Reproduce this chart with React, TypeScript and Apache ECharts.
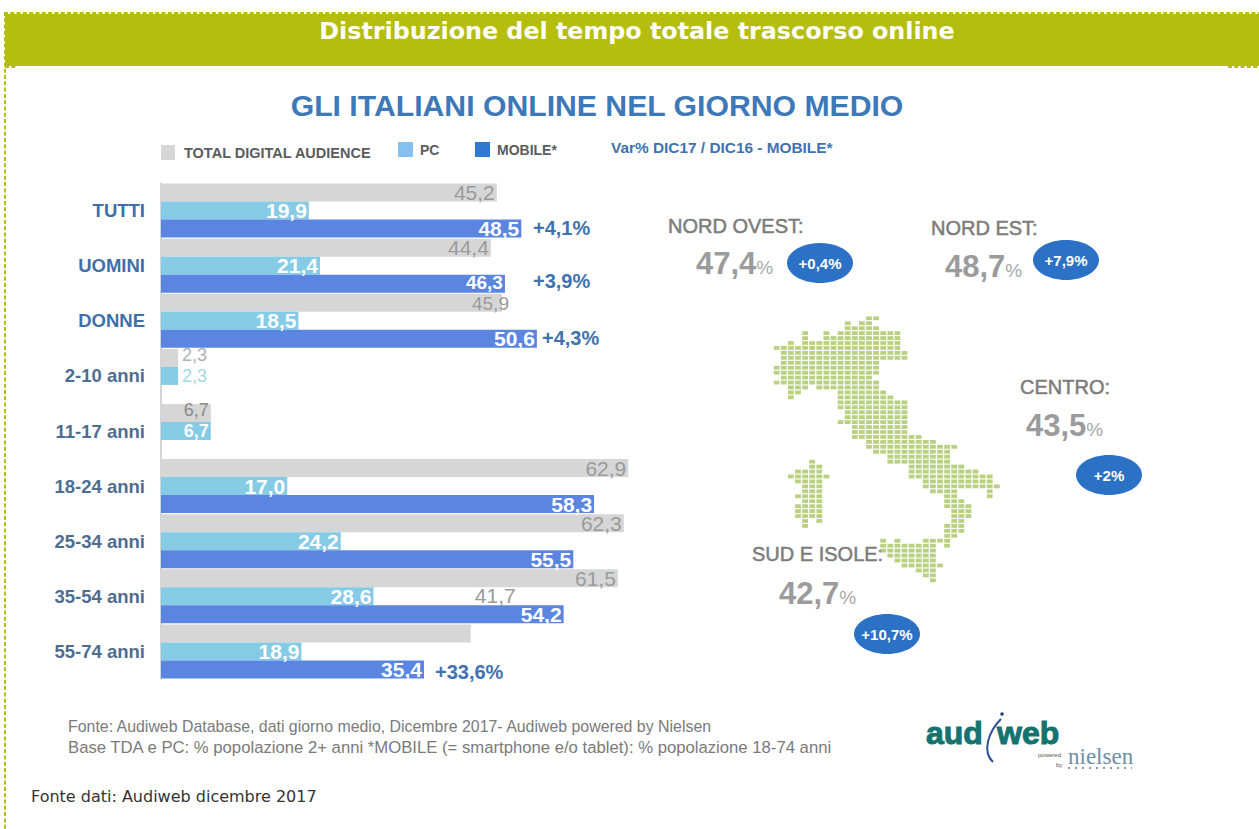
import React, { useEffect, useRef } from "react";
import * as echarts from "echarts";

const categories = ["TUTTI", "UOMINI", "DONNE", "2-10 anni", "11-17 anni", "18-24 anni", "25-34 anni", "35-54 anni", "55-74 anni"];
const totalAudience = [45.2, 44.4, 45.9, 2.3, 6.7, 62.9, 62.3, 61.5, 41.7];
const pc = [19.9, 21.4, 18.5, 2.3, 6.7, 17.0, 24.2, 28.6, 18.9];
const mobile = [48.5, 46.3, 50.6, null, null, 58.3, 55.5, 54.2, 35.4];

const seriesNames = ["TOTAL DIGITAL AUDIENCE", "PC", "MOBILE*"];
const variations = ["+4,1%", "+3,9%", "+4,3%", "+33,6%"];
const regions = [
  { name: "NORD OVEST:", share: "47,4", change: "+0,4%" },
  { name: "NORD EST:", share: "48,7", change: "+7,9%" },
  { name: "CENTRO:", share: "43,5", change: "+2%" },
  { name: "SUD E ISOLE:", share: "42,7", change: "+10,7%" },
];

// Dotted map of Italy: [row, first column, last column] runs of dots.
const mapRuns = [
  [0, 13, 14], [1, 10, 10], [1, 12, 13], [2, 10, 14], [3, 4, 4], [3, 7, 7], [3, 9, 17], [4, 4, 4], [4, 7, 17],
  [5, 2, 2], [5, 4, 17], [6, 0, 17], [7, 1, 18], [8, 1, 18], [9, 1, 14], [10, 0, 14], [11, 0, 14], [12, 1, 13],
  [13, 0, 14], [14, 2, 4], [14, 6, 14], [15, 2, 3], [15, 9, 15], [16, 2, 2], [16, 9, 16], [17, 9, 18], [18, 9, 18],
  [19, 10, 18], [20, 10, 18], [21, 9, 18], [22, 11, 18], [23, 11, 18], [24, 11, 20], [25, 13, 22], [26, 13, 25],
  [27, 14, 24], [28, 16, 24], [29, 16, 24], [30, 19, 26], [31, 19, 28], [32, 19, 30], [33, 21, 30], [34, 21, 31],
  [35, 22, 25], [35, 30, 30], [36, 24, 25], [36, 30, 30], [37, 24, 26], [38, 24, 27], [39, 25, 27], [40, 25, 27],
  [41, 25, 26], [42, 24, 26], [43, 24, 26], [44, 24, 25], [45, 15, 15], [45, 17, 17], [45, 21, 24], [46, 15, 22],
  [46, 24, 24], [47, 15, 22], [48, 16, 22], [49, 17, 22], [50, 18, 23], [51, 20, 22], [52, 21, 22], [53, 22, 22],
  // Sardegna
  [29, 5, 5], [30, 5, 6], [31, 3, 3], [31, 4, 6], [32, 2, 7], [33, 3, 6], [34, 4, 6], [35, 4, 6], [36, 3, 6],
  [37, 4, 6], [38, 3, 6], [39, 3, 6], [40, 3, 6], [41, 4, 4], [41, 6, 6], [42, 4, 4],
];

const OLIVE = "#b5bd0e";
const FONT = "Liberation Sans";
const BLUE_TEXT = "#3f72b0";

const decimal = (v: number) => v.toFixed(1).replace(".", ",");

function barLabel(color: string, position: string, bold: boolean, offset?: number[], fontSize = 21) {
  return {
    show: true,
    position,
    distance: 2,
    offset: offset ?? [0, 0],
    color,
    fontFamily: FONT,
    fontSize,
    lineHeight: 17,
    fontWeight: bold ? "bold" : "normal",
    formatter: (p: any) => decimal(p.value),
  };
}

function text(x: number, y: number, value: string, fontSize: number, fill: string, extra: any = {}) {
  return {
    type: "text",
    x,
    y,
    style: { text: value, fontSize, fill, fontFamily: FONT, fontWeight: "bold", textVerticalAlign: "middle", ...extra },
  };
}

function regionBlock(r: (typeof regions)[number], nameX: number, nameY: number, shareX: number, shareY: number, cx: number, cy: number) {
  return [
    text(nameX, nameY, r.name, 20, "#7c7c7c", { fontWeight: "normal", stroke: "#7c7c7c", lineWidth: 0.5 }),
    {
      type: "text",
      x: shareX,
      y: shareY,
      style: {
        text: `{n|${r.share}}{p|%}`,
        fontFamily: FONT,
        textVerticalAlign: "middle",
        rich: {
          n: { fontSize: 31, fill: "#9b9b9b", fontFamily: FONT, fontWeight: "bold" },
          p: { fontSize: 19, fill: "#a8a8a8", fontFamily: FONT, padding: [8, 0, 0, 0] },
        },
      },
    },
    { type: "ellipse", shape: { cx, cy, rx: 33, ry: 20 }, style: { fill: "#2b72c6" } },
    text(cx, cy, r.change, 15, "#ffffff", { textAlign: "center" }),
  ];
}

export default function App() {
  const ref = useRef<HTMLDivElement>(null);

  useEffect(() => {
    if (!ref.current) return;
    const chart = echarts.init(ref.current, undefined, { renderer: "svg" });

    const mapDots: number[][] = [];
    mapRuns.forEach(([row, from, to]) => {
      for (let c = from; c <= to; c++) mapDots.push([c, row]);
    });

    chart.setOption({
      animation: false,
      backgroundColor: "#ffffff",
      title: [
        {
          text: "Distribuzione del tempo totale trascorso online",
          left: 632,
          top: 14,
          textAlign: "center",
          textStyle: { color: "#ffffff", fontFamily: "DejaVu Sans", fontSize: 23.8, fontWeight: "bold" },
        },
        {
          text: "GLI ITALIANI ONLINE NEL GIORNO MEDIO",
          left: 592,
          top: 85,
          textAlign: "center",
          textStyle: { color: "#3d78b8", fontFamily: FONT, fontSize: 30.2, fontWeight: "bold" },
        },
      ],
      legend: [
        { name: 0, left: 161, top: 145, itemWidth: 14, itemHeight: 15, color: "#d6d6d6" },
        { name: 1, left: 398, top: 142, itemWidth: 15, itemHeight: 15, color: "#86c0ee" },
        { name: 2, left: 475, top: 142, itemWidth: 15, itemHeight: 15, color: "#2f7ad0" },
      ].map((l) => ({
        data: [seriesNames[l.name]],
        left: l.left,
        top: l.top,
        itemWidth: l.itemWidth,
        itemHeight: l.itemHeight,
        itemGap: 0,
        icon: "rect",
        padding: 0,
        itemStyle: { color: l.color },
        textStyle: {
          color: "#5c5c5c",
          fontFamily: FONT,
          fontSize: l.name === 0 ? 14.5 : 14,
          fontWeight: "bold",
          padding: [0, 0, 0, l.name === 0 ? 4 : 2],
        },
      })),
      grid: [
        { left: 161, top: 183, width: 468, height: 496 },
        { left: 776.7, top: 318.3, width: 220.1, height: 262 },
      ],
      xAxis: [
        { type: "value", gridIndex: 0, min: 0, max: 63, show: false },
        { type: "value", gridIndex: 1, min: 0, max: 31, show: false },
      ],
      yAxis: [
        {
          type: "category",
          gridIndex: 0,
          data: categories,
          inverse: true,
          axisTick: { show: false },
          axisLine: { lineStyle: { color: "#c4c8cc", width: 1.5 } },
          axisLabel: {
            margin: 16,
            color: (_: any, i: number) => (i < 3 ? "#3f6fa8" : "#4d6d92"),
            fontFamily: FONT,
            fontSize: 18.5,
            fontWeight: "bold",
          },
        },
        { type: "value", gridIndex: 1, min: 0, max: 53, inverse: true, show: false },
      ],
      series: [
        {
          name: seriesNames[0],
          type: "bar",
          barWidth: 18,
          barGap: 0,
          itemStyle: { color: "#d6d6d6" },
          label: barLabel("#9a9a9a", "insideRight", false),
          data: totalAudience.map((value, i) => {
            if (i === 2) return { value, label: barLabel("#9a9a9a", "insideRight", false, [9, 1], 19) };
            if (i === 3) return { value, label: barLabel("#b0b0b0", "right", false, [2, -3], 18) };
            if (i === 4) return { value, label: barLabel("#8a8a8a", "insideRight", false, [0, -3], 18) };
            if (i === 8) return { value, label: barLabel("#9a9a9a", "right", false, [2, -38]) };
            return value;
          }),
        },
        {
          name: seriesNames[1],
          type: "bar",
          barWidth: 18,
          barGap: 0,
          itemStyle: { color: "#85cbe6" },
          label: barLabel("#ffffff", "insideRight", true),
          data: pc.map((value, i) => {
            if (i === 3) return { value, label: barLabel("#a4d6e6", "right", false, [2, 0], 18) };
            if (i === 4) return { value, label: barLabel("#ffffff", "insideRight", true, [0, 0], 18) };
            return value;
          }),
        },
        {
          name: seriesNames[2],
          type: "bar",
          barWidth: 18,
          barGap: 0,
          itemStyle: { color: "#5a85e0" },
          label: barLabel("#ffffff", "insideRight", true),
          data: mobile.map((value, i) =>
            i === 1 ? { value, label: barLabel("#ffffff", "insideRight", true, [0, -1], 19) } : value,
          ),
        },
        {
          type: "scatter",
          xAxisIndex: 1,
          yAxisIndex: 1,
          symbol: "rect",
          symbolSize: [5.8, 3.8],
          itemStyle: { color: "#a9c462" },
          data: mapDots,
        },
      ],
      graphic: [
        { type: "rect", shape: { x: 5, y: 14, width: 1254, height: 52 }, style: { fill: OLIVE } },
        { type: "line", shape: { x1: 4, y1: 13, x2: 1259, y2: 13 }, style: { stroke: OLIVE, lineWidth: 2, lineDash: [4, 2.3] } },
        { type: "line", shape: { x1: 5, y1: 12, x2: 5, y2: 829 }, style: { stroke: OLIVE, lineWidth: 2, lineDash: [4, 2.3] } },
        { type: "line", shape: { x1: 1228, y1: 67, x2: 1259, y2: 67 }, style: { stroke: OLIVE, lineWidth: 2, lineDash: [4, 2.3] } },
        { type: "line", shape: { x1: 5, y1: 67, x2: 16, y2: 67 }, style: { stroke: OLIVE, lineWidth: 2, lineDash: [4, 2.3] } },

        text(611, 147, "Var% DIC17 / DIC16 - MOBILE*", 15.4, BLUE_TEXT),

        text(533, 228, variations[0], 20, BLUE_TEXT),
        text(533, 281, variations[1], 20, BLUE_TEXT),
        text(542, 338, variations[2], 20, BLUE_TEXT),
        text(435, 672, variations[3], 20, BLUE_TEXT),

        ...regionBlock(regions[0], 668, 226, 696, 263, 820, 263),
        ...regionBlock(regions[1], 931, 228, 945, 266, 1066, 260),
        ...regionBlock(regions[2], 1020, 387, 1026, 425, 1109, 475),
        ...regionBlock(regions[3], 752, 554, 779, 593, 887, 634),

        text(68, 726, "Fonte: Audiweb Database, dati giorno medio, Dicembre 2017- Audiweb powered by Nielsen", 15.9, "#7a7a7a", { fontWeight: "normal" }),
        text(68, 747, "Base TDA e PC: % popolazione 2+ anni *MOBILE (= smartphone e/o tablet): % popolazione 18-74 anni", 16.7, "#7a7a7a", { fontWeight: "normal" }),
        text(31, 796, "Fonte dati: Audiweb dicembre 2017", 16, "#333333", { fontFamily: "DejaVu Sans", fontWeight: "normal" }),

        // audiweb / nielsen mark
        text(926, 733, "aud", 32, "#14736f", { stroke: "#14736f", lineWidth: 1 }),
        text(997, 733, "web", 32, "#14736f", { stroke: "#14736f", lineWidth: 1 }),
        { type: "circle", shape: { cx: 1002, cy: 714, r: 1.8 }, style: { fill: "#25407e" } },
        { type: "bezierCurve", shape: { x1: 1001, y1: 719, cpx1: 988, cpy1: 732, cpx2: 982, cpy2: 752, x2: 993, y2: 762 }, style: { stroke: "#2d4f94", lineWidth: 2, fill: "none" } },
        text(1068, 756, "nielsen", 23, "#6f8ea8", { fontFamily: "Liberation Serif", fontWeight: "normal" }),
        text(1038, 755, "powered", 6, "#555555", { fontWeight: "normal" }),
        text(1056, 765, "by", 6, "#555555", { fontWeight: "normal" }),
        { type: "line", shape: { x1: 1068, y1: 768, x2: 1132, y2: 768 }, style: { stroke: "#8a97a6", lineWidth: 2, lineDash: [2, 5] } },
      ],
    });

    return () => chart.dispose();
  }, []);

  return <div ref={ref} style={{ position: "absolute", left: 0, top: 0, width: 1259, height: 829 }} />;
}
